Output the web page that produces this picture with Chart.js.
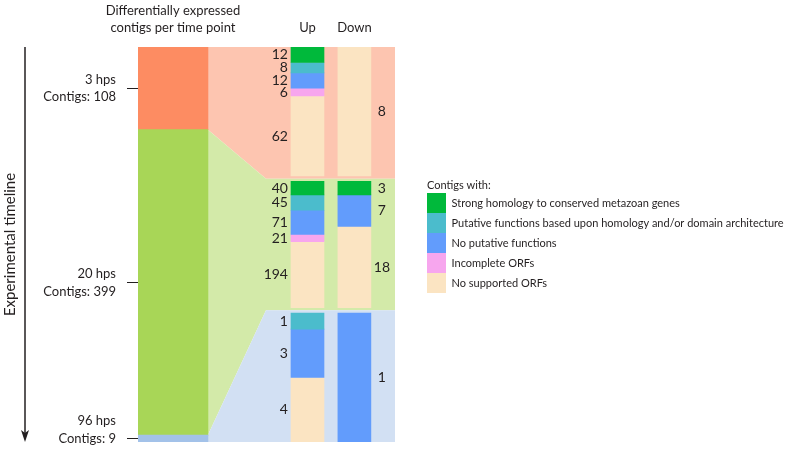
<!DOCTYPE html>
<html>
<head>
<meta charset="utf-8">
<script src="https://cdn.jsdelivr.net/npm/chart.js@4.4.1/dist/chart.umd.min.js"></script>
<style>
  html, body { margin: 0; padding: 0; background: #fff; }
  #wrap { width: 787px; height: 449px; }
</style>
</head>
<body>
<div id="wrap"><canvas id="grafico"></canvas></div>
<script>
// dados
const timePoints = ['3 hps', '20 hps', '96 hps'];
const contigs = [108, 399, 9];
const categories = [
  'Strong homology to conserved metazoan genes',
  'Putative functions based upon homology and/or domain architecture',
  'No putative functions',
  'Incomplete ORFs',
  'No supported ORFs'
];
const up3 = [12, 8, 12, 6, 62];
const down3 = [0, 0, 0, 0, 8];
const up20 = [40, 45, 71, 21, 194];
const down20 = [3, 0, 7, 0, 18];
const up96 = [0, 1, 3, 0, 4];
const down96 = [0, 0, 1, 0, 0];
const headers = [['Differentially expressed', 'contigs per time point'], 'Up', 'Down'];

// estilo
const FONT = 'Lato, "Liberation Sans", sans-serif';
const INK = '#231f20';
const timeColors = ['#fd8c62', '#a8d657', '#a3c2e9'];
const panelColors = ['#fdc5b0', '#d3eaa9', '#d2e0f3'];
const catColors = ['#00b93b', '#4bbccc', '#629cfc', '#f7a6ee', '#fbe4c2'];
const X = { time: 13.6, funnel: 49.8, up: 65.95, down: 84.2 }; // % da largura do grafico
const GAP = 0.02; // folga entre secoes

Chart.defaults.font.family = FONT;
Chart.defaults.color = INK;

const columns = { up: [up3, up20, up96], down: [down3, down20, down96] };
const total = contigs.reduce((a, b) => a + b, 0);
const cum = contigs.map((c, i) => contigs.slice(0, i).reduce((a, b) => a + b, 0));
const mids = contigs.map((c, i) => cum[i] + c / 2);

function secPos(s, f) {
  const top = s + (s > 0 ? GAP : 0);
  const bottom = s + 1 - (s < 2 ? GAP : 0);
  return top + f * (bottom - top);
}

const catDatasets = categories.map((label, k) => {
  const data = [];
  timePoints.forEach((tp, s) => {
    ['up', 'down'].forEach(dir => {
      const counts = columns[dir][s];
      const n = counts[k];
      if (!n) return;
      const sum = counts.reduce((a, b) => a + b, 0);
      const before = counts.slice(0, k).reduce((a, b) => a + b, 0);
      data.push({ x: X[dir], y: [secPos(s, before / sum), secPos(s, (before + n) / sum)], n: n, dir: dir });
    });
  });
  return {
    label: label, data: data, backgroundColor: catColors[k], borderWidth: 0,
    yAxisID: 'yS', barThickness: 33, stack: 'all'
  };
});

const timeDataset = {
  label: 'timeline',
  data: contigs.map((c, i) => ({ x: X.time, y: [cum[i], cum[i] + c] })),
  backgroundColor: timeColors, borderWidth: 0,
  yAxisID: 'yC', barThickness: 70, stack: 'all'
};

// fundo em funil
const panels = {
  id: 'panels',
  beforeDatasetsDraw(chart) {
    const { ctx, chartArea, scales } = chart;
    const bar = chart.getDatasetMeta(0).data[0];
    const xL = bar.x + bar.width / 2;
    const xF = scales.x.getPixelForValue(X.funnel);
    const xR = chartArea.right;
    ctx.save();
    contigs.forEach((c, i) => {
      const c0 = scales.yC.getPixelForValue(cum[i]);
      const c1 = scales.yC.getPixelForValue(cum[i] + c);
      const s0 = scales.yS.getPixelForValue(i);
      const s1 = scales.yS.getPixelForValue(i + 1);
      ctx.fillStyle = panelColors[i];
      ctx.beginPath();
      ctx.moveTo(xL, c0);
      ctx.lineTo(xF, s0);
      ctx.lineTo(xR, s0);
      ctx.lineTo(xR, s1);
      ctx.lineTo(xF, s1);
      ctx.lineTo(xL, c1);
      ctx.closePath();
      ctx.fill();
    });
    ctx.restore();
  }
};

// numeros ao lado das colunas
const numbers = {
  id: 'numbers',
  afterDatasetsDraw(chart) {
    const ctx = chart.ctx;
    ctx.save();
    ctx.font = '14px ' + FONT;
    ctx.fillStyle = INK;
    ctx.textBaseline = 'middle';
    chart.data.datasets.forEach((ds, i) => {
      if (i === 0) return;
      chart.getDatasetMeta(i).data.forEach((el, j) => {
        const d = ds.data[j];
        const yc = (el.y + el.base) / 2;
        if (d.dir === 'up') {
          ctx.textAlign = 'right';
          ctx.fillText(d.n, el.x - el.width / 2 - 3, yc);
        } else {
          ctx.textAlign = 'center';
          ctx.fillText(d.n, el.x + el.width / 2 + 11, yc);
        }
      });
    });
    ctx.restore();
  }
};

// seta da linha do tempo
const arrow = {
  id: 'arrow',
  afterDraw(chart) {
    const { ctx, chartArea } = chart;
    const ax = chart.scales.yC.left + 25;
    ctx.save();
    ctx.strokeStyle = INK;
    ctx.fillStyle = INK;
    ctx.lineWidth = 1.5;
    ctx.beginPath();
    ctx.moveTo(ax, chartArea.top);
    ctx.lineTo(ax, chartArea.bottom - 8);
    ctx.stroke();
    ctx.beginPath();
    ctx.moveTo(ax - 4, chartArea.bottom - 12);
    ctx.lineTo(ax, chartArea.bottom - 9);
    ctx.lineTo(ax + 4, chartArea.bottom - 12);
    ctx.lineTo(ax, chartArea.bottom);
    ctx.closePath();
    ctx.fill();
    ctx.restore();
  }
};

new Chart(document.getElementById('grafico'), {
  type: 'bar',
  data: { datasets: [timeDataset].concat(catDatasets) },
  options: {
    indexAxis: 'x',
    responsive: true,
    maintainAspectRatio: false,
    animation: false,
    layout: { padding: { top: 0, left: 0, right: 0, bottom: 7 } },
    scales: {
      x: {
        type: 'linear', position: 'top', min: 0, max: 100, offset: false,
        grid: { display: false, drawTicks: false },
        border: { display: false },
        afterBuildTicks: s => { s.ticks = [X.time, X.up, X.down].map(v => ({ value: v })); },
        ticks: {
          autoSkip: false, maxRotation: 0, minRotation: 0, padding: 10.5,
          font: { size: 13, lineHeight: 1.3 },
          callback: (v, i) => headers[i]
        },
        afterFit: s => { s.height = 47; s.paddingLeft = 0; s.paddingRight = 0; }
      },
      yC: {
        type: 'linear', position: 'left', reverse: true, min: 0, max: total, stacked: false,
        afterBuildTicks: s => { s.ticks = mids.map(v => ({ value: v })); },
        ticks: {
          autoSkip: false, padding: 11,
          font: { size: 13, lineHeight: 1.38 },
          // ultimo rotulo sobe uma linha para caber no quadro
          callback: (v, i) => i < timePoints.length - 1
            ? [timePoints[i], 'Contigs: ' + contigs[i]]
            : [timePoints[i], 'Contigs: ' + contigs[i], '']
        },
        grid: { drawOnChartArea: false, drawTicks: true, tickLength: 11, color: INK, lineWidth: 1 },
        border: { display: false },
        title: { display: true, text: 'Experimental timeline', font: { size: 15 }, padding: { top: 1, bottom: 0 } },
        afterFit: s => { s.width = 138; s.paddingTop = 0; s.paddingBottom = 0; }
      },
      yS: { type: 'linear', display: false, reverse: true, min: 0, max: 3, stacked: false },
      gap: {
        type: 'linear', axis: 'y', position: 'right', display: true,
        ticks: { display: false }, grid: { display: false, drawTicks: false }, border: { display: false },
        afterFit: s => { s.width = 32; s.paddingTop = 0; s.paddingBottom = 0; }
      }
    },
    plugins: {
      tooltip: { enabled: false },
      legend: {
        position: 'right', align: 'center', maxWidth: 360,
        title: {
          display: true, text: 'Contigs with:', position: 'start',
          font: { size: 11 }, padding: { top: 30.5, bottom: 0.3 }
        },
        labels: {
          boxWidth: 19, boxHeight: 20, padding: 0,
          font: { size: 11 },
          filter: item => item.datasetIndex > 0
        }
      }
    }
  },
  plugins: [panels, numbers, arrow]
});
</script>
</body>
</html>
